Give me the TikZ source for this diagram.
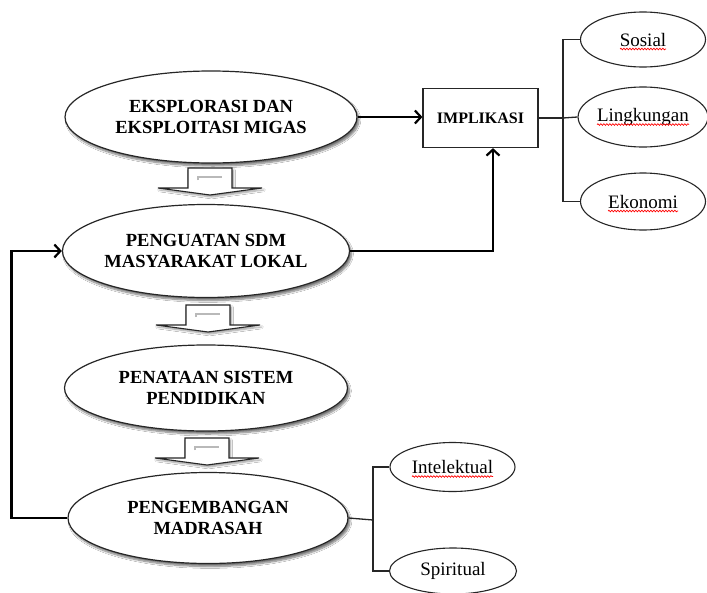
\documentclass[tikz,border=0pt]{standalone}
\usepackage{fontspec}
\setmainfont{Liberation Serif}
\usetikzlibrary{shapes.geometric,arrows.meta,shadows.blur,decorations.pathmorphing}
\newcommand\squig[2]{%
  \draw[spellwave] ([xshift=-#2/2, yshift=-3pt]#1.base) -- ([xshift=#2/2, yshift=-3pt]#1.base);}
\newcommand\downblock[2]{%
  \draw[blockarrow] (#1-22,#2) -- (#1+22,#2) -- (#1+22,#2+20) -- (#1+52,#2+20) -- (#1,#2+27) -- (#1-52,#2+20) -- (#1-22,#2+20) -- cycle;
  \draw[gray!55, line width=1.2pt] (#1-12,#2+12) -- (#1-12,#2+9) -- (#1+12,#2+9);}
\tikzset{
  bigell/.style={ellipse, draw=black!85, line width=1.2pt, fill=white, inner sep=0pt,
    align=center, font=\fontsize{18.5}{20.5}\selectfont\bfseries,
    blur shadow={shadow xshift=2pt, shadow yshift=-3pt, shadow blur steps=8, shadow opacity=55}},
  smallell/.style={ellipse, draw=black!85, line width=1.1pt, fill=white, inner sep=0pt,
    font=\fontsize{19}{21}\selectfont},
  implbox/.style={rectangle, draw=black!85, line width=1.2pt, fill=white, inner sep=0pt,
    minimum width=115pt, minimum height=59pt, font=\fontsize{16}{18}\selectfont\bfseries},
  mainarrow/.style={line width=2.2pt, -{Straight Barb[length=6pt,width=13pt]}},
  treeline/.style={line width=1.3pt, draw=black!85},
  spellwave/.style={draw=red, line width=0.7pt, decorate, decoration={snake, amplitude=0.8pt, segment length=3pt}},
  blockarrow/.style={draw=black!85, line width=1.1pt, fill=white,
    blur shadow={shadow xshift=1.5pt, shadow yshift=-2pt, shadow blur steps=5, shadow opacity=40}}
}
\begin{document}
\begin{tikzpicture}[x=1pt,y=-1pt]
\useasboundingbox (0,0) rectangle (707,592);
\fill[white] (0,0) rectangle (707,592);

% main ellipses
\node[bigell, minimum width=292pt, minimum height=92pt] (e1) at (211,117) {EKSPLORASI DAN\\EKSPLOITASI MIGAS};
\node[bigell, minimum width=285pt, minimum height=93pt] (e2) at (206,251) {PENGUATAN SDM\\MASYARAKAT LOKAL};
\node[bigell, minimum width=283pt, minimum height=86pt] (e3) at (206,388) {PENATAAN SISTEM\\PENDIDIKAN};
\node[bigell, minimum width=280pt, minimum height=91pt] (e4) at (208,518) {PENGEMBANGAN\\MADRASAH};

% block arrows
\downblock{210}{168}
\downblock{208}{305}
\downblock{207}{438}

% implication box
\node[implbox] (impl) at (480.5,118) {IMPLIKASI};

% right ellipses
\node[smallell, minimum width=125pt, minimum height=55pt] (sos) at (643,39.5) {Sosial};
\node[smallell, minimum width=124pt, minimum height=60pt] (lin) at (643,117) {Lingkungan};
\node[smallell, minimum width=125pt, minimum height=57pt] (eko) at (643,201.5) {Ekonomi};

% madrasah branches
\node[smallell, minimum width=125pt, minimum height=49pt] (intel) at (452.5,467) {Intelektual};
\node[smallell, minimum width=127pt, minimum height=46pt] (spir) at (453,571) {Spiritual};

% spell-check underlines
\squig{sos}{46pt}
\squig{lin}{92pt}
\squig{eko}{70pt}
\squig{intel}{81pt}

% main connectors
\draw[mainarrow] (e1.east) -- (e1.east -| impl.west);
\draw[mainarrow] (e2.east) -| ([xshift=12.5pt]impl.south);
\draw[mainarrow] (e4.west) -- ++(-56,0) |- (e2.west);

% tree from IMPLIKASI
\coordinate (tr) at (563,118);
\draw[treeline] (impl.east) -- (tr);
\draw[treeline] (sos.west) -| (tr) |- (eko.west);
\draw[treeline] (tr) -- (lin.west);

% tree from MADRASAH
\coordinate (tm) at (373,520);
\draw[treeline] (e4.east) -- (tm);
\draw[treeline] (intel.west) -| (tm) |- (spir.west);
\end{tikzpicture}
\end{document}
